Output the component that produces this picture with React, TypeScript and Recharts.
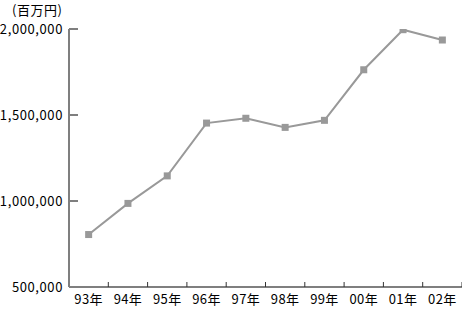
import React from 'react';
import { LineChart, Line, XAxis, YAxis } from 'recharts';

const years = ['93年', '94年', '95年', '96年', '97年', '98年', '99年', '00年', '01年', '02年'];
const values = [805000, 986000, 1146000, 1453000, 1481000, 1428000, 1469000, 1763000, 1996000, 1936000];
const yTicks = [500000, 1000000, 1500000, 2000000];
const unitLabel = '(百万円)';

const data = years.map((y, i) => ({ year: y, value: values[i] }));

const W = 462;
const H = 310;
const LEFT = 69;
const TOP = 29;
const BOTTOM = 23;
const FONT = '"Noto Sans CJK JP", sans-serif';
const band = (W - LEFT) / years.length;

const fmt = (v: number) => v.toLocaleString('en-US');

const YTick = (props: any) => {
  const { x, y, payload } = props;
  return (
    <g>
      {payload.value !== yTicks[0] && (
        <line x1={x} x2={x + 9} y1={y} y2={y} stroke="#7f7f7f" strokeWidth={2} />
      )}
      <text x={x - 6} y={y} dy={5} textAnchor="end" fontSize={13} letterSpacing={0.6} fontFamily={FONT} fill="#000">
        {fmt(payload.value)}
      </text>
    </g>
  );
};

const XTick = (props: any) => {
  const { x, y, payload } = props;
  return (
    <g>
      <line x1={x + band / 2} x2={x + band / 2} y1={y} y2={y - 5} stroke="#333" strokeWidth={1} />
      <text x={x} y={y + 17} textAnchor="middle" fontSize={13} letterSpacing={0.4} fontFamily={FONT} fill="#000">
        {payload.value}
      </text>
    </g>
  );
};

const SquareDot = (props: any) => {
  const { cx, cy } = props;
  if (cx == null || cy == null) return null;
  return <rect x={cx - 3.5} y={cy - 3.5} width={7} height={7} fill="#999999" />;
};

export default function App() {
  return (
    <div style={{ position: 'absolute', left: 0, top: 0, width: W, height: H }}>
      <LineChart width={W} height={H} data={data} margin={{ top: TOP, right: 0, left: 0, bottom: 0 }}>
        <XAxis
          dataKey="year"
          height={BOTTOM}
          tick={<XTick />}
          tickLine={false}
          tickSize={0}
          tickMargin={0}
          axisLine={{ stroke: '#7f7f7f', strokeWidth: 2 }}
          interval={0}
          padding={{ left: band / 2, right: band / 2 }}
        />
        <YAxis
          width={LEFT}
          domain={[500000, 2000000]}
          ticks={yTicks}
          tick={<YTick />}
          tickLine={false}
          tickSize={0}
          tickMargin={0}
          axisLine={{ stroke: '#7f7f7f', strokeWidth: 2 }}
          allowDataOverflow
        />
        <Line
          type="linear"
          dataKey="value"
          stroke="#999999"
          strokeWidth={2}
          dot={<SquareDot />}
          activeDot={false}
          isAnimationActive={false}
        />
        <text x={12} y={15} fontSize={13} letterSpacing={0.5} fontFamily={FONT} fill="#000">
          {unitLabel}
        </text>
      </LineChart>
    </div>
  );
}
